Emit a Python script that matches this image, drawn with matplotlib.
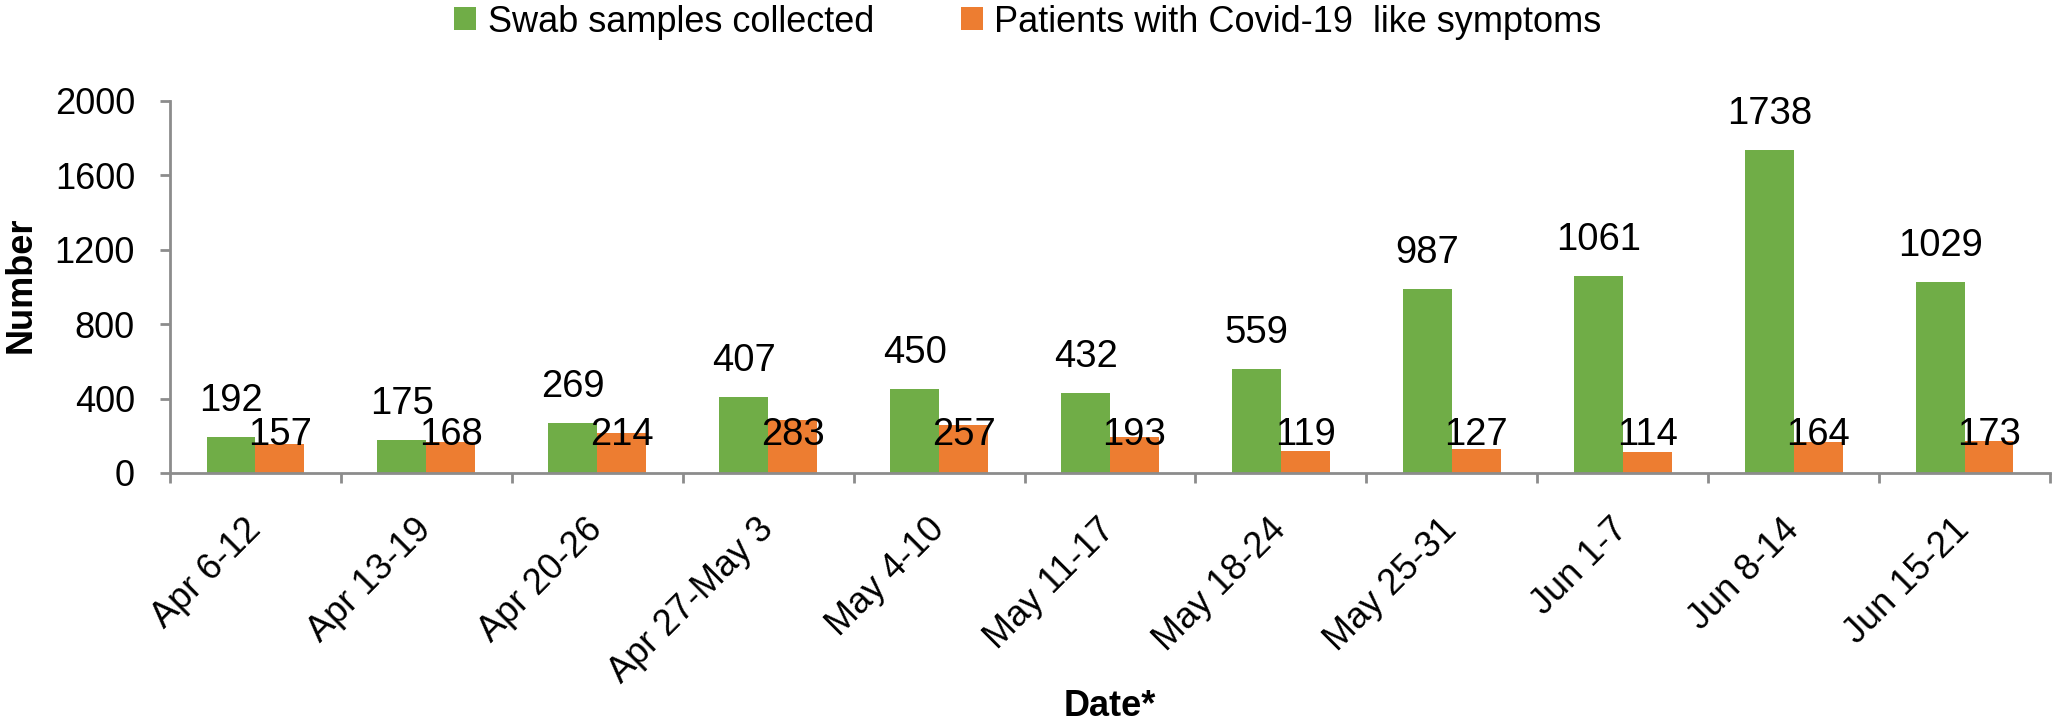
import numpy as np
import matplotlib
matplotlib.use("Agg")
import matplotlib.pyplot as plt
from matplotlib.transforms import ScaledTranslation

plt.rcParams['font.family'] = ['Liberation Sans', 'DejaVu Sans']

weeks = ['Apr 6-12', 'Apr 13-19', 'Apr 20-26', 'Apr 27-May 3', 'May 4-10',
         'May 11-17', 'May 18-24', 'May 25-31', 'Jun 1-7', 'Jun 8-14', 'Jun 15-21']
swabs = [192, 175, 269, 407, 450, 432, 559, 987, 1061, 1738, 1029]
patients = [157, 168, 214, 283, 257, 193, 119, 127, 114, 164, 173]

green = '#70AD47'
orange = '#ED7D31'
axcol = '#8C8C8C'
fs = 26
lab_fs = 27.5

fig = plt.figure(figsize=(20.54, 7.27), dpi=100)
ax = fig.add_axes([170/2054, 1-473/727, 1880/2054, 372/727])

x = np.arange(len(weeks))
w = 0.286
b1 = ax.bar(x - w/2, swabs, w, color=green, label='Swab samples collected')
b2 = ax.bar(x + w/2, patients, w, color=orange, label='Patients with Covid-19  like symptoms')

# data labels
for xi, v in zip(x, swabs):
    ax.annotate(str(v), (xi - w/2, v), xytext=(0, 26), textcoords='offset pixels',
                ha='center', va='baseline', fontsize=lab_fs)
for xi, v in zip(x, patients):
    ax.text(xi + w/2, 150, str(v), ha='center', va='baseline', fontsize=lab_fs)

ax.set_xlim(-0.5, len(weeks) - 0.5)
ax.set_ylim(0, 2000)
ax.set_yticks([0, 400, 800, 1200, 1600, 2000])

# ticks at category boundaries, labels at centers
ax.set_xticks(np.arange(-0.5, len(weeks), 1.0))
ax.set_xticklabels([])
ax.set_xticks(x, minor=True)
ax.set_xticklabels(weeks, minor=True, rotation=45, ha='right', va='center',
                   rotation_mode='anchor', fontsize=fs)
shift = ScaledTranslation(7/100, 0, fig.dpi_scale_trans)
for lbl in ax.get_xticklabels(minor=True):
    lbl.set_transform(lbl.get_transform() + shift)
ax.tick_params(axis='x', which='major', length=7.2, width=2, color=axcol, direction='out')
ax.tick_params(axis='x', which='minor', length=0, pad=37)
ax.tick_params(axis='y', length=7.2, width=2, color=axcol, direction='out', pad=18, labelsize=fs)

for s in ['top', 'right']:
    ax.spines[s].set_visible(False)
for s in ['left', 'bottom']:
    ax.spines[s].set_color(axcol)
    ax.spines[s].set_linewidth(2)

fig.text(21/2054, 1-285/727, 'Number', rotation=90, ha='center', va='center',
         fontsize=fs, fontweight='bold')
fig.text(1110/2054, 1-707/727, 'Date*', ha='center', va='center',
         fontsize=fs, fontweight='bold')

fig.legend(handles=[b1, b2], loc='center', bbox_to_anchor=(0.5005, 1-22/727),
           ncol=2, frameon=False, fontsize=fs, handlelength=0.6, handleheight=0.6,
           handletextpad=0.33, columnspacing=2.4, borderpad=0, borderaxespad=0)

fig.savefig('out.png', dpi=100)
